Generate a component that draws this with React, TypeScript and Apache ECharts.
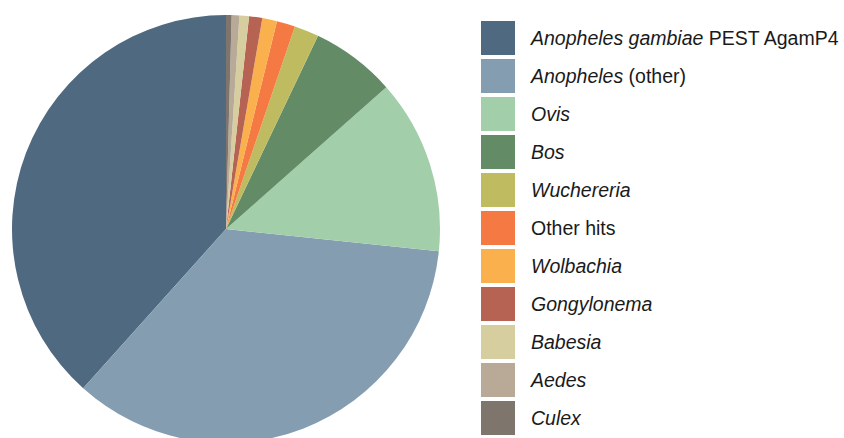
import React, { useEffect, useRef } from "react";
import * as echarts from "echarts";

const categories = [
  "Anopheles gambiae PEST AgamP4",
  "Anopheles (other)",
  "Ovis",
  "Bos",
  "Wuchereria",
  "Other hits",
  "Wolbachia",
  "Gongylonema",
  "Babesia",
  "Aedes",
  "Culex",
];
const values = [38.4, 35.0, 13.2, 6.4, 1.86, 1.39, 1.11, 1.0, 0.72, 0.58, 0.42];
const colors = [
  "#4f6980",
  "#849db1",
  "#a2ceaa",
  "#638b66",
  "#bfbb60",
  "#f47942",
  "#fbb04e",
  "#b66353",
  "#d7ce9f",
  "#b9aa97",
  "#7e756d",
];

function legendLabel(name: string): string {
  if (name === "Anopheles gambiae PEST AgamP4") return "{s|}{i|Anopheles gambiae} {n|PEST AgamP4}";
  if (name === "Anopheles (other)") return "{s|}{i|Anopheles} {n|(other)}";
  if (name === "Other hits") return "{s|}{n|Other hits}";
  return "{s|}{i|" + name + "}";
}

export default function App() {
  const ref = useRef<HTMLDivElement>(null);
  useEffect(() => {
    if (!ref.current) return;
    const chart = echarts.init(ref.current, undefined, { renderer: "svg" });
    const font = "'Liberation Sans', Arial, Helvetica, sans-serif";
    const fs = 19.5;
    chart.setOption({
      animation: false,
      color: colors,
      legend: {
        orient: "vertical",
        left: 481,
        top: 21,
        height: 420,
        padding: 0,
        itemWidth: 34,
        itemHeight: 34,
        itemGap: 4,
        icon: "rect",
        selectedMode: false,
        data: categories,
        formatter: legendLabel,
        textStyle: {
          color: "#1a1a1a",
          fontFamily: font,
          fontSize: fs,
          rich: {
            s: { width: 11, fontSize: fs, fontFamily: font },
            i: { fontStyle: "italic", fontSize: fs, color: "#1a1a1a", fontFamily: font },
            n: { fontStyle: "normal", fontSize: fs, color: "#1a1a1a", fontFamily: font },
          },
        },
      },
      series: [
        {
          type: "pie",
          center: [226, 229],
          radius: 214,
          startAngle: 90,
          clockwise: false,
          label: { show: false },
          labelLine: { show: false },
          emphasis: { disabled: true },
          itemStyle: { borderWidth: 0 },
          data: categories.map((c, i) => ({ name: c, value: values[i] })),
        },
      ],
    });
    return () => chart.dispose();
  }, []);
  return (
    <div
      ref={ref}
      style={{ position: "fixed", left: 0, top: 0, width: 844, height: 438, background: "#fff" }}
    />
  );
}
